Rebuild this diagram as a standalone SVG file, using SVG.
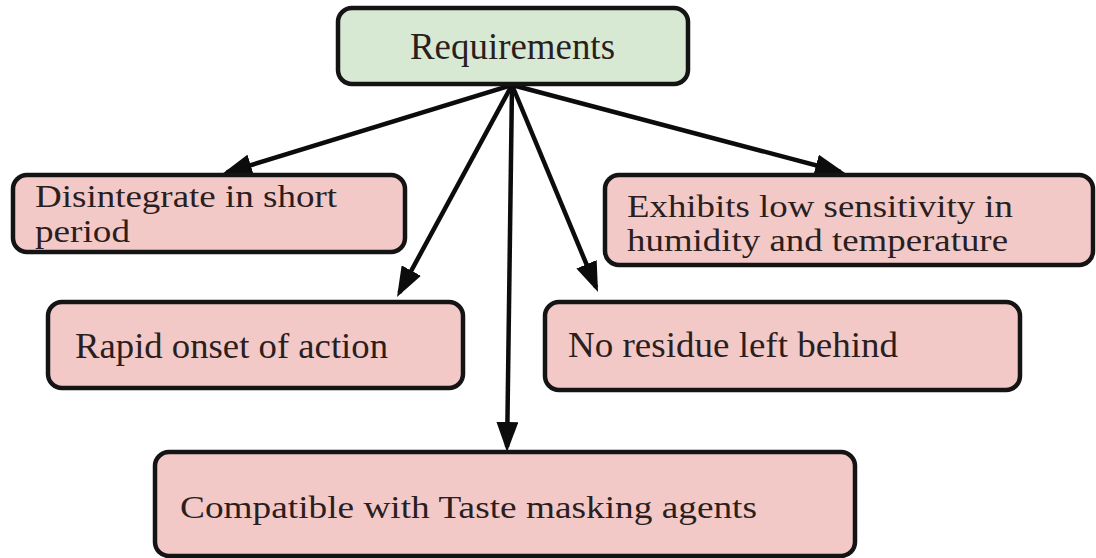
<svg xmlns="http://www.w3.org/2000/svg" width="1096" height="558" viewBox="0 0 1096 558">
  <style>
    .box { stroke: #141414; stroke-width: 4.5; }
    .root { fill: #d7e9d2; }
    .leaf { fill: #f3c9c8; }
    .lbl { font-family: "Liberation Serif", "Times New Roman", serif; font-size: 35px; fill: #2a1e1e; }
    .two { font-size: 31px; }
    .edge { stroke: #0c0c0c; stroke-width: 4.5; fill: none; marker-end: url(#head); }
  </style>
  <defs>
    <marker id="head" markerUnits="userSpaceOnUse" markerWidth="30" markerHeight="22" refX="25" refY="11" orient="auto">
      <path d="M0,0 L30,11 L0,22 z" fill="#0c0c0c"/>
    </marker>
  </defs>
  <rect width="1096" height="558" fill="#ffffff"/>

  <g id="connectors">
    <line class="edge" x1="512" y1="85" x2="226.8" y2="172.5"/>
    <line class="edge" x1="512" y1="85" x2="399.4" y2="292.6"/>
    <line class="edge" x1="512" y1="85" x2="507.1" y2="447"/>
    <line class="edge" x1="512" y1="85" x2="596.1" y2="287.4"/>
    <line class="edge" x1="512" y1="85" x2="840.2" y2="171.7"/>
  </g>

  <g id="requirements">
    <rect class="box root" x="338" y="8" width="350" height="76" rx="14"/>
    <text class="lbl" x="410" y="59" style="font-size:37px" textLength="205" lengthAdjust="spacingAndGlyphs">Requirements</text>
  </g>

  <g id="disintegrate">
    <rect class="box leaf" x="13" y="175" width="392" height="77" rx="14"/>
    <text class="lbl two" x="35" y="207" textLength="302" lengthAdjust="spacingAndGlyphs">Disintegrate in short</text>
    <text class="lbl two" x="35" y="242" textLength="95" lengthAdjust="spacingAndGlyphs">period</text>
  </g>

  <g id="exhibits">
    <rect class="box leaf" x="605" y="175" width="488" height="90" rx="14"/>
    <text class="lbl two" x="627" y="217" textLength="386" lengthAdjust="spacingAndGlyphs">Exhibits low sensitivity in</text>
    <text class="lbl two" x="627" y="251" textLength="381" lengthAdjust="spacingAndGlyphs">humidity and temperature</text>
  </g>

  <g id="rapid">
    <rect class="box leaf" x="48" y="302" width="415" height="86" rx="14"/>
    <text class="lbl" x="75" y="358" textLength="313" lengthAdjust="spacingAndGlyphs">Rapid onset of action</text>
  </g>

  <g id="residue">
    <rect class="box leaf" x="545" y="302" width="475" height="88" rx="14"/>
    <text class="lbl" x="568" y="357" textLength="330" lengthAdjust="spacingAndGlyphs">No residue left behind</text>
  </g>

  <g id="compatible">
    <rect class="box leaf" x="155" y="452" width="700" height="104" rx="14"/>
    <text class="lbl" x="180" y="518" style="font-size:32px" textLength="577" lengthAdjust="spacingAndGlyphs">Compatible with Taste masking agents</text>
  </g>
</svg>
